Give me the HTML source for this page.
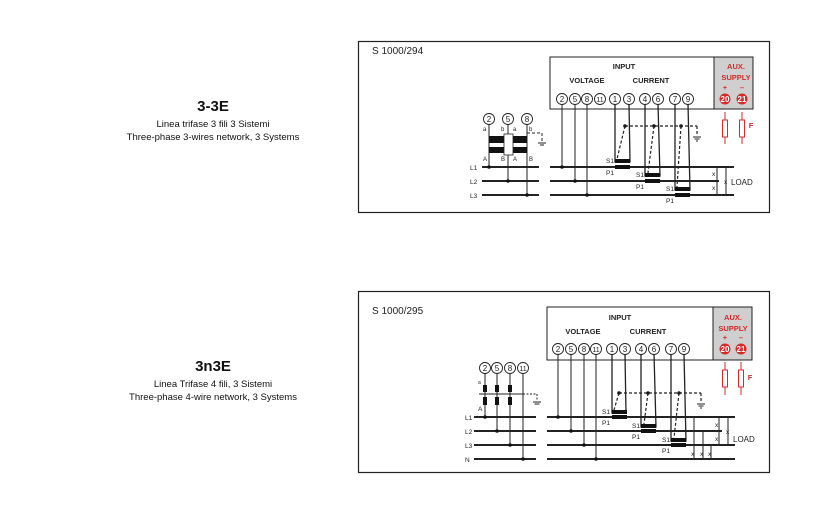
<!DOCTYPE html>
<html><head><meta charset="utf-8"><style>
html,body{margin:0;padding:0;background:#fff;}
svg{display:block;font-family:"Liberation Sans",sans-serif;}
</style></head><body>
<svg width="826" height="530" viewBox="0 0 826 530" xmlns="http://www.w3.org/2000/svg">
<!-- Left texts -->
<g text-anchor="middle" fill="#111">
<text x="213" y="111" font-size="15" font-weight="bold">3-3E</text>
<text x="213" y="127" font-size="9.5">Linea trifase 3 fili 3 Sistemi</text>
<text x="213" y="140" font-size="9.5">Three-phase 3-wires network, 3 Systems</text>
<text x="213" y="371" font-size="15" font-weight="bold">3n3E</text>
<text x="213" y="387" font-size="9.5">Linea Trifase 4 fili, 3 Sistemi</text>
<text x="213" y="400" font-size="9.5">Three-phase 4-wire network, 3 Systems</text>
</g>

<!-- ========== Diagram 1 ========== -->
<rect x="358.5" y="41.5" width="411" height="171" fill="none" stroke="#222" stroke-width="1.2"/>
<text x="372" y="54" font-size="10" fill="#222">S 1000/294</text>
<rect x="550" y="57" width="164" height="52" fill="#fff" stroke="#222" stroke-width="1"/>
<rect x="714" y="57" width="39" height="52" fill="#cfcfcf" stroke="#222" stroke-width="1"/>
<g font-size="7.5" font-weight="bold" fill="#222" text-anchor="middle">
<text x="624" y="69">INPUT</text>
<text x="587" y="83">VOLTAGE</text>
<text x="651" y="83">CURRENT</text>
</g>
<g font-size="7.5" font-weight="bold" fill="#d42a2a" text-anchor="middle">
<text x="736" y="69">AUX.</text>
<text x="736" y="80">SUPPLY</text>
<text x="725" y="90">+</text><text x="742" y="90">–</text>
<text x="751" y="128">F</text>
</g>
<g stroke="#222" stroke-width="0.9" fill="#fff">
<circle cx="562" cy="99" r="5.5"/><circle cx="575" cy="99" r="5.5"/><circle cx="587" cy="99" r="5.5"/><circle cx="600" cy="99" r="5.5"/>
<circle cx="615" cy="99" r="5.5"/><circle cx="629" cy="99" r="5.5"/><circle cx="645" cy="99" r="5.5"/><circle cx="658" cy="99" r="5.5"/>
<circle cx="675" cy="99" r="5.5"/><circle cx="688" cy="99" r="5.5"/>
</g>
<g font-size="8" fill="#222" text-anchor="middle">
<text x="562" y="102">2</text><text x="575" y="102">5</text><text x="587" y="102">8</text><text x="600" y="102" font-size="7">11</text>
<text x="615" y="102">1</text><text x="629" y="102">3</text><text x="645" y="102">4</text><text x="658" y="102">6</text>
<text x="675" y="102">7</text><text x="688" y="102">9</text>
</g>
<circle cx="725" cy="99" r="5.5" fill="#d42a2a"/><circle cx="742" cy="99" r="5.5" fill="#d42a2a"/>
<g font-size="8" font-weight="bold" fill="#fff" text-anchor="middle"><text x="725" y="102">20</text><text x="742" y="102">21</text></g>
<g stroke="#d42a2a" stroke-width="1" fill="#fff">
<line x1="725" y1="112" x2="725" y2="144"/><line x1="742" y1="112" x2="742" y2="144"/>
<rect x="722.5" y="120" width="5" height="17"/><rect x="739.5" y="120" width="5" height="17"/>
</g>
<!-- lines -->
<g stroke="#222" stroke-width="2">
<line x1="482" y1="167" x2="539" y2="167"/><line x1="482" y1="181" x2="539" y2="181"/><line x1="482" y1="195" x2="539" y2="195"/>
<line x1="550" y1="167" x2="734" y2="167"/><line x1="550" y1="181" x2="719" y2="181"/><line x1="550" y1="195" x2="734" y2="195"/>
</g>
<g font-size="6.5" fill="#222">
<text x="470" y="170">L1</text><text x="470" y="184">L2</text><text x="470" y="198">L3</text>
</g>
<g stroke="#222" stroke-width="1" fill="none">
<line x1="562" y1="104" x2="562" y2="167"/><line x1="575" y1="104" x2="575" y2="181"/><line x1="587" y1="104" x2="587" y2="195"/>
<polyline points="615,104 615,162 630,162 629,104" stroke-width="1.3"/>
<polyline points="645,104 645,176 660,176 658,104" stroke-width="1.3"/>
<polyline points="675,104 675,190 690,190 688,104" stroke-width="1.3"/>
<line x1="489" y1="125" x2="489" y2="167"/><line x1="508" y1="125" x2="508" y2="181"/><line x1="527" y1="125" x2="527" y2="195"/>
<line x1="717" y1="167" x2="717" y2="195"/><line x1="726" y1="167" x2="726" y2="195"/>
</g>
<g fill="#111">
<rect x="615" y="159" width="15" height="4"/><rect x="615" y="165" width="15" height="4"/>
<rect x="645" y="173" width="15" height="4"/><rect x="645" y="179" width="15" height="4"/>
<rect x="675" y="187" width="15" height="4"/><rect x="675" y="193" width="15" height="4"/>
<circle cx="562" cy="167" r="1.8"/><circle cx="575" cy="181" r="1.8"/><circle cx="587" cy="195" r="1.8"/>
<circle cx="489" cy="167" r="1.8"/><circle cx="508" cy="181" r="1.8"/><circle cx="527" cy="195" r="1.8"/>
<circle cx="625" cy="126" r="1.8"/><circle cx="654" cy="126" r="1.8"/><circle cx="681" cy="126" r="1.8"/>
</g>
<g stroke="#222" stroke-width="1.2" stroke-dasharray="3,2" fill="none">
<line x1="625" y1="126" x2="697" y2="126"/><line x1="697" y1="126" x2="697" y2="136"/>
<line x1="625" y1="126" x2="617" y2="159"/><line x1="654" y1="126" x2="648" y2="173"/><line x1="681" y1="126" x2="677" y2="187"/>
</g>
<g stroke="#222" stroke-width="1"><line x1="693" y1="137" x2="701" y2="137"/><line x1="694.5" y1="139" x2="699.5" y2="139"/><line x1="696" y1="141" x2="698" y2="141"/></g>
<g font-size="6.5" fill="#222">
<text x="606" y="163">S1</text><text x="606" y="175">P1</text>
<text x="636" y="177">S1</text><text x="636" y="189">P1</text>
<text x="666" y="191">S1</text><text x="666" y="203">P1</text>
<text x="712" y="176">x</text><text x="712" y="190">x</text><text x="724" y="184">x</text>
</g>
<text x="731" y="185" font-size="8" fill="#222">LOAD</text>
<!-- VT left -->
<g stroke="#222" stroke-width="0.9" fill="#fff">
<circle cx="489" cy="119" r="5.5"/><circle cx="508" cy="119" r="5.5"/><circle cx="527" cy="119" r="5.5"/>
</g>
<g font-size="8" fill="#222" text-anchor="middle"><text x="489" y="122">2</text><text x="508" y="122">5</text><text x="527" y="122">8</text></g>
<rect x="489" y="136" width="38" height="7" fill="#111"/><rect x="489" y="147" width="38" height="6" fill="#111"/>
<rect x="504" y="134" width="9" height="21" fill="#fff" stroke="#222" stroke-width="0.8"/>
<g stroke="#222" stroke-width="1" stroke-dasharray="3,2" fill="none"><polyline points="527,133 542,133 542,142"/></g>
<g stroke="#222" stroke-width="1"><line x1="538" y1="143" x2="546" y2="143"/><line x1="540" y1="145" x2="544" y2="145"/></g>
<g font-size="6" fill="#222">
<text x="483" y="131">a</text><text x="501" y="131">b</text><text x="513" y="131">a</text><text x="529" y="131">b</text>
<text x="483" y="161">A</text><text x="501" y="161">B</text><text x="513" y="161">A</text><text x="529" y="161">B</text>
</g>

<!-- ========== Diagram 2 ========== -->
<rect x="358.5" y="291.5" width="411" height="181" fill="none" stroke="#222" stroke-width="1.2"/>
<text x="372" y="314" font-size="10" fill="#222">S 1000/295</text>
<rect x="547" y="307" width="166" height="53" fill="#fff" stroke="#222" stroke-width="1"/>
<rect x="713" y="307" width="39" height="53" fill="#cfcfcf" stroke="#222" stroke-width="1"/>
<g font-size="7.5" font-weight="bold" fill="#222" text-anchor="middle">
<text x="620" y="320">INPUT</text>
<text x="583" y="334">VOLTAGE</text>
<text x="648" y="334">CURRENT</text>
</g>
<g font-size="7.5" font-weight="bold" fill="#d42a2a" text-anchor="middle">
<text x="733" y="320">AUX.</text>
<text x="733" y="331">SUPPLY</text>
<text x="725" y="340">+</text><text x="741" y="340">–</text>
<text x="750" y="380">F</text>
</g>
<g stroke="#222" stroke-width="0.9" fill="#fff">
<circle cx="558" cy="349" r="5.5"/><circle cx="571" cy="349" r="5.5"/><circle cx="584" cy="349" r="5.5"/><circle cx="596" cy="349" r="5.5"/>
<circle cx="612" cy="349" r="5.5"/><circle cx="625" cy="349" r="5.5"/><circle cx="641" cy="349" r="5.5"/><circle cx="654" cy="349" r="5.5"/>
<circle cx="671" cy="349" r="5.5"/><circle cx="684" cy="349" r="5.5"/>
</g>
<g font-size="8" fill="#222" text-anchor="middle">
<text x="558" y="352">2</text><text x="571" y="352">5</text><text x="584" y="352">8</text><text x="596" y="352" font-size="7">11</text>
<text x="612" y="352">1</text><text x="625" y="352">3</text><text x="641" y="352">4</text><text x="654" y="352">6</text>
<text x="671" y="352">7</text><text x="684" y="352">9</text>
</g>
<circle cx="725" cy="349" r="5.5" fill="#d42a2a"/><circle cx="741" cy="349" r="5.5" fill="#d42a2a"/>
<g font-size="8" font-weight="bold" fill="#fff" text-anchor="middle"><text x="725" y="352">20</text><text x="741" y="352">21</text></g>
<g stroke="#d42a2a" stroke-width="1" fill="#fff">
<line x1="725" y1="362" x2="725" y2="395"/><line x1="741" y1="362" x2="741" y2="395"/>
<rect x="722.5" y="370" width="5" height="17"/><rect x="738.5" y="370" width="5" height="17"/>
</g>
<g stroke="#222" stroke-width="2">
<line x1="474" y1="417" x2="536" y2="417"/><line x1="474" y1="431" x2="536" y2="431"/><line x1="474" y1="445" x2="536" y2="445"/><line x1="474" y1="459" x2="536" y2="459"/>
<line x1="547" y1="417" x2="735" y2="417"/><line x1="547" y1="431" x2="722" y2="431"/><line x1="547" y1="445" x2="735" y2="445"/><line x1="547" y1="459" x2="735" y2="459"/>
</g>
<g font-size="6.5" fill="#222">
<text x="465" y="420">L1</text><text x="465" y="434">L2</text><text x="465" y="448">L3</text><text x="465" y="462">N</text>
</g>
<g stroke="#222" stroke-width="1" fill="none">
<line x1="558" y1="354" x2="558" y2="417"/><line x1="571" y1="354" x2="571" y2="431"/><line x1="584" y1="354" x2="584" y2="445"/><line x1="596" y1="354" x2="596" y2="459"/>
<polyline points="612,354 612,413 626,413 625,354" stroke-width="1.3"/>
<polyline points="641,354 641,427 656,427 654,354" stroke-width="1.3"/>
<polyline points="671,354 671,441 686,441 684,354" stroke-width="1.3"/>
<line x1="485" y1="373" x2="485" y2="417"/><line x1="497" y1="373" x2="497" y2="431"/><line x1="510" y1="373" x2="510" y2="445"/><line x1="523" y1="373" x2="523" y2="459"/>
<line x1="479" y1="394" x2="523" y2="394"/>
<line x1="694" y1="417" x2="694" y2="459"/><line x1="703" y1="431" x2="703" y2="459"/><line x1="711" y1="445" x2="711" y2="459"/>
<line x1="719" y1="417" x2="719" y2="445"/><line x1="728" y1="417" x2="728" y2="445"/>
</g>
<g fill="#111">
<rect x="612" y="410" width="15" height="4"/><rect x="612" y="415" width="15" height="4"/>
<rect x="641" y="424" width="15" height="4"/><rect x="641" y="429" width="15" height="4"/>
<rect x="671" y="438" width="15" height="4"/><rect x="671" y="443" width="15" height="4"/>
<circle cx="558" cy="417" r="1.8"/><circle cx="571" cy="431" r="1.8"/><circle cx="584" cy="445" r="1.8"/><circle cx="596" cy="459" r="1.8"/>
<circle cx="485" cy="417" r="1.8"/><circle cx="497" cy="431" r="1.8"/><circle cx="510" cy="445" r="1.8"/><circle cx="523" cy="459" r="1.8"/>
<circle cx="619" cy="393" r="1.8"/><circle cx="648" cy="393" r="1.8"/><circle cx="679" cy="393" r="1.8"/>
<rect x="483" y="385" width="4" height="7"/><rect x="495" y="385" width="4" height="7"/><rect x="508" y="385" width="4" height="7"/>
<rect x="483" y="397" width="4" height="8"/><rect x="495" y="397" width="4" height="8"/><rect x="508" y="397" width="4" height="8"/>
</g>
<g stroke="#222" stroke-width="1.2" stroke-dasharray="3,2" fill="none">
<line x1="619" y1="393" x2="701" y2="393"/><line x1="701" y1="393" x2="701" y2="403"/>
<line x1="619" y1="393" x2="614" y2="410"/><line x1="648" y1="393" x2="644" y2="424"/><line x1="679" y1="393" x2="674" y2="438"/>
</g>
<g stroke="#222" stroke-width="1" stroke-dasharray="2,1.5" fill="none"><polyline points="523,394 537,394 537,401"/></g>
<g stroke="#222" stroke-width="1">
<line x1="697" y1="404" x2="705" y2="404"/><line x1="698.5" y1="406" x2="703.5" y2="406"/><line x1="700" y1="408" x2="702" y2="408"/>
<line x1="533" y1="402" x2="541" y2="402"/><line x1="534.5" y1="404" x2="539.5" y2="404"/>
</g>
<g stroke="#222" stroke-width="0.9" fill="#fff">
<circle cx="485" cy="368" r="5.5"/><circle cx="497" cy="368" r="5.5"/><circle cx="510" cy="368" r="5.5"/><circle cx="523" cy="368" r="5.5"/>
</g>
<g font-size="8" fill="#222" text-anchor="middle"><text x="485" y="371">2</text><text x="497" y="371">5</text><text x="510" y="371">8</text><text x="523" y="371" font-size="7">11</text></g>
<g font-size="6.5" fill="#222">
<text x="478" y="384" font-size="5">a</text><text x="478" y="411">A</text>
<text x="602" y="414">S1</text><text x="602" y="425">P1</text>
<text x="632" y="428">S1</text><text x="632" y="439">P1</text>
<text x="662" y="442">S1</text><text x="662" y="453">P1</text>
<text x="715" y="427">x</text><text x="715" y="441">x</text><text x="726" y="434">x</text>
<text x="691" y="456">x</text><text x="700" y="456">x</text><text x="708" y="456">x</text>
</g>
<text x="733" y="442" font-size="8" fill="#222">LOAD</text>
</svg>
</body></html>
